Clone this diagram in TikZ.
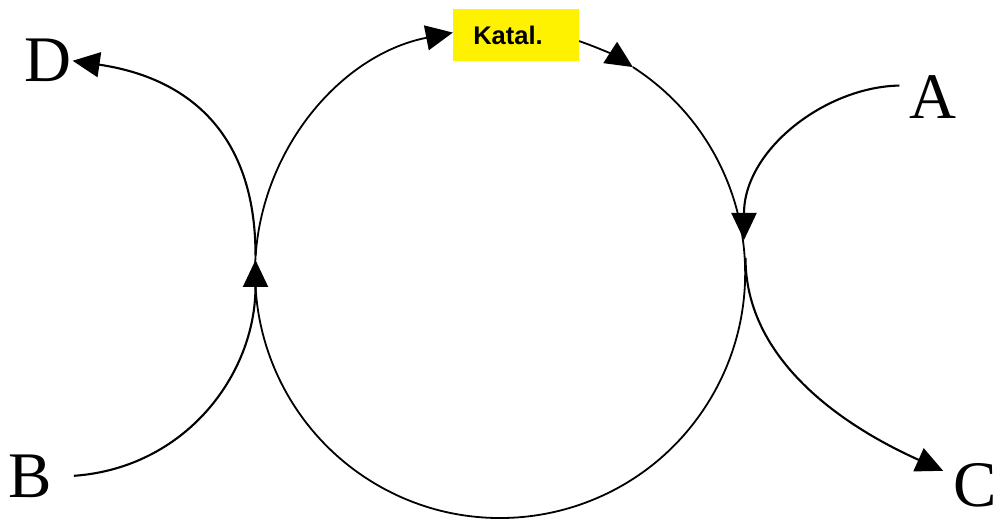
\documentclass[tikz,border=0pt]{standalone}
\usepackage{fontspec}
\setmainfont{Liberation Serif}
\newfontfamily\katfont{Liberation Sans}
\usetikzlibrary{arrows.meta}
\begin{document}
\begin{tikzpicture}[x=1pt,y=1pt,
  flow/.style={line width=2.1pt,-{Triangle[length=27pt,width=25pt]}},
  ring/.style={line width=1.8pt},
  ringarrow/.style={line width=1.8pt,-{Triangle[length=27pt,width=25pt]}},
  lbl/.style={font=\fontsize{65}{65}\selectfont, inner sep=1pt, anchor=base},
  katbox/.style={fill=yellow, minimum width=126pt, minimum height=52pt, inner sep=0pt,
    font=\katfont\bfseries\fontsize{25.5}{26}\selectfont}]
\useasboundingbox (0,0) rectangle (999,520);
% labels
\node[lbl] (D) at (48,438) {D};
\node[lbl] (A) at (933,401) {A};
\node[lbl] (B) at (30,23) {B};
\node[lbl] (C) at (975,14) {C};
% junctions on the cycle
\coordinate (Ltop) at (255.5,265);
\coordinate (Lbot) at (255.5,260);
\coordinate (Rtop) at (744,280);
\coordinate (Rbot) at (745.5,262);
% cycle
\draw[ringarrow] (255,247) arc[start angle=180, end angle=101.1, radius=245pt] coordinate (k1);
\draw[ringarrow] (579.1,478.9) arc[start angle=71.2, end angle=57.2, radius=245pt] coordinate (k2);
\draw[ring] (k2) arc[start angle=57.2, end angle=-180, radius=245pt];
\node[katbox] (kat) at (516,485) {Katal.\hspace*{16pt}};
% side branches
\draw[flow] (Ltop) .. controls (255.5,385) and (190,442) .. (D.east);
\draw[flow] ([xshift=21pt]B.east) .. controls (185,52) and (255.5,145) .. (Lbot);
\draw[flow] ([shift={(-9pt,12pt)}]A.west) .. controls (825,433) and (744,370) .. (Rtop);
\draw[flow] (Rbot) .. controls (745.5,160) and (843,94) .. ([shift={(-9pt,14pt)}]C.west);
\end{tikzpicture}
\end{document}
